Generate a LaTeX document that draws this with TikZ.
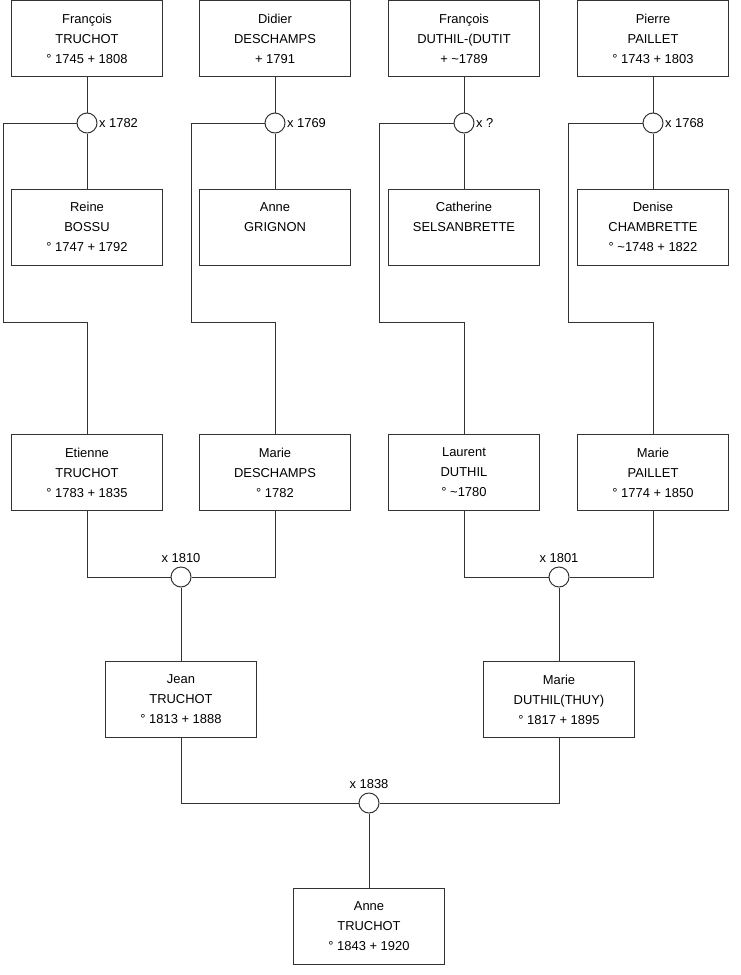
\documentclass[tikz,border=0pt]{standalone}
\usepackage{fontspec}
\setmainfont{Liberation Sans}
\usetikzlibrary{positioning}
\definecolor{treeline}{HTML}{333333}

\begin{document}
\begin{tikzpicture}[x=0.75pt, y=-0.75pt, font=\fontsize{9.7}{15}\selectfont,
  person/.style={draw=treeline, line width=0.75pt, minimum width=113pt, minimum height=57pt, align=center, inner sep=0pt},
  union/.style={circle, draw=treeline, line width=0.75pt, minimum size=15pt, inner sep=0pt},
  link/.style={treeline, line width=0.75pt},
  lbl/.style={inner sep=1pt}]
  \useasboundingbox (0,0) rectangle (740,975);
  % great-grandparents
  \node[person] (f1) at (87,38.5) {François\\TRUCHOT\\° 1745 + 1808};
  \node[person] (f2) at (275,38.5) {Didier\\DESCHAMPS\\+ 1791};
  \node[person] (f3) at (464,38.5) {François\\DUTHIL-(DUTIT\\+ \textasciitilde1789};
  \node[person] (f4) at (653,38.5) {Pierre\\PAILLET\\° 1743 + 1803};
  \node[union] (m1) at (87,123) {};
  \node[union] (m2) at (275,123) {};
  \node[union] (m3) at (464,123) {};
  \node[union] (m4) at (653,123) {};
  \node[lbl, right=0pt of m1] (m1t) {x 1782};
  \node[lbl, right=0pt of m2] (m2t) {x 1769};
  \node[lbl, right=0pt of m3] (m3t) {x ?};
  \node[lbl, right=0pt of m4] (m4t) {x 1768};
  \node[person] (w1) at (87,227) {Reine\\BOSSU\\° 1747 + 1792};
  \node[person] (w2) at (275,227) {Anne\\GRIGNON\\ \mbox{}};
  \node[person] (w3) at (464,227) {Catherine\\SELSANBRETTE\\ \mbox{}};
  \node[person] (w4) at (653,227) {Denise\\CHAMBRETTE\\° \textasciitilde1748 + 1822};
  \draw[link] (f1) -- (m1) -- (w1);
  \draw[link] (f2) -- (m2) -- (w2);
  \draw[link] (f3) -- (m3) -- (w3);
  \draw[link] (f4) -- (m4) -- (w4);
  % grandparents
  \node[person] (c1) at (87,472.5) {Etienne\\TRUCHOT\\° 1783 + 1835};
  \node[person] (c2) at (275,472.5) {Marie\\DESCHAMPS\\° 1782};
  \node[person] (c3) at (464,472.5) {Laurent\\DUTHIL\\° \textasciitilde1780};
  \node[person] (c4) at (653,472.5) {Marie\\PAILLET\\° 1774 + 1850};
  \draw[link] (m1.west) -| (3,322) -| (c1.north);
  \draw[link] (m2.west) -| (191,322) -| (c2.north);
  \draw[link] (m3.west) -| (379,322) -| (c3.north);
  \draw[link] (m4.west) -| (568,322) -| (c4.north);
  \node[union] (u1) at (181,577) {};
  \node[union] (u2) at (559,577) {};
  \node[lbl, above=2pt of u1] (u1t) {x 1810};
  \node[lbl, above=2pt of u2] (u2t) {x 1801};
  \draw[link] (c1.south) |- (u1.west);
  \draw[link] (c2.south) |- (u1.east);
  \draw[link] (c3.south) |- (u2.west);
  \draw[link] (c4.south) |- (u2.east);
  % parents
  \node[person] (g1) at (181,699.5) {Jean\\TRUCHOT\\° 1813 + 1888};
  \node[person] (g2) at (559,699.5) {Marie\\DUTHIL(THUY)\\° 1817 + 1895};
  \draw[link] (u1) -- (g1);
  \draw[link] (u2) -- (g2);
  \node[union] (u3) at (369,803) {};
  \node[lbl, above=2pt of u3] (u3t) {x 1838};
  \draw[link] (g1.south) |- (u3.west);
  \draw[link] (g2.south) |- (u3.east);
  \node[person] (a1) at (369,926) {Anne\\TRUCHOT\\° 1843 + 1920};
  \draw[link] (u3) -- (a1);
\end{tikzpicture}
\end{document}
